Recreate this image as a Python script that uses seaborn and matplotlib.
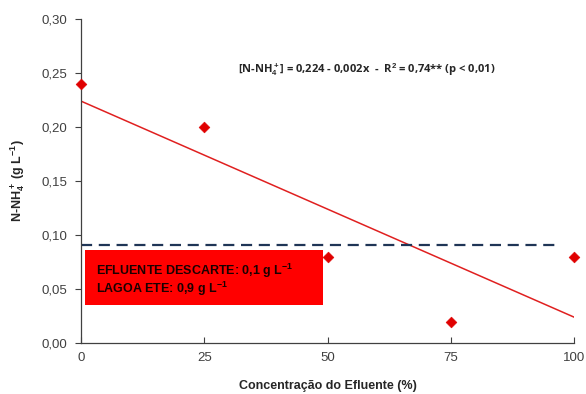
import numpy as np
import pandas as pd
import seaborn as sns
import matplotlib.pyplot as plt
from matplotlib.ticker import FuncFormatter
from matplotlib.patches import Rectangle

# data
concentracao = [0, 25, 50, 75, 100]
nh4 = [0.24, 0.20, 0.08, 0.02, 0.08]
intercept = 0.224
slope = -0.002
limite = 0.091

sns.set_style('white')
plt.rcParams['font.family'] = ['Liberation Sans', 'DejaVu Sans']
plt.rcParams['mathtext.fontset'] = 'custom'
plt.rcParams['mathtext.rm'] = 'Liberation Sans'
plt.rcParams['mathtext.bf'] = 'Liberation Sans:bold'
plt.rcParams['mathtext.default'] = 'bf'

df = pd.DataFrame({'conc': concentracao, 'nh4': nh4})

fig = plt.figure(figsize=(5.86, 3.94), dpi=100)
ax = fig.add_axes([0.138, 0.129, 0.842, 0.823])

sns.scatterplot(data=df, x='conc', y='nh4', ax=ax, marker='D', s=30,
                color='#e00000', edgecolor='#e00000', zorder=5, clip_on=False)

xl = np.array([0, 100])
ax.plot(xl, intercept + slope * xl, color='#e02020', lw=1.1)

ax.hlines(limite, 0, 97, colors='#1f3556', linestyles=(0, (5, 3)), lw=1.6)

ax.add_patch(Rectangle((0.8, 0.035), 48.2, 0.051, facecolor='#ff0000',
                       edgecolor='none', zorder=3))
ax.text(3, 0.0585, 'EFLUENTE DESCARTE: 0,1 g L$^{-1}$\nLAGOA ETE: 0,9 g L$^{-1}$',
        fontsize=9, fontweight='bold', color='#1a0000', va='center',
        linespacing=1.05, zorder=4)

ax.text(58, 0.253, '[N-NH$_4^+$] = 0,224 - 0,002x  -  R$^2$ = 0,74** (p < 0,01)',
        fontsize=8, fontweight='bold', ha='center', va='center',
        family=['Open Sans', 'DejaVu Sans'])

ax.set_xlim(0, 100)
ax.set_ylim(0, 0.30)
ax.set_xticks([0, 25, 50, 75, 100])
ax.set_yticks(np.arange(0, 0.31, 0.05))
ax.yaxis.set_major_formatter(FuncFormatter(lambda v, p: f'{v:.2f}'.replace('.', ',')))

for s in ['top', 'right']:
    ax.spines[s].set_visible(False)
for s in ['left', 'bottom']:
    ax.spines[s].set_color('#404040')
    ax.spines[s].set_linewidth(0.9)

ax.tick_params(axis='y', direction='out', length=4, color='#404040',
               labelsize=9.5, labelcolor='#404040', left=True, pad=6)
ax.tick_params(axis='x', direction='in', length=4, color='#404040',
               labelsize=9.5, labelcolor='#404040', bottom=True, pad=6)

ax.set_xlabel('Concentração do Efluente (%)', fontsize=9, fontweight='bold', labelpad=12)
ax.set_ylabel('N-NH$_4^+$ (g L$^{-1}$)', fontsize=9, fontweight='bold', labelpad=10)

fig.savefig('out.png', dpi=100)
